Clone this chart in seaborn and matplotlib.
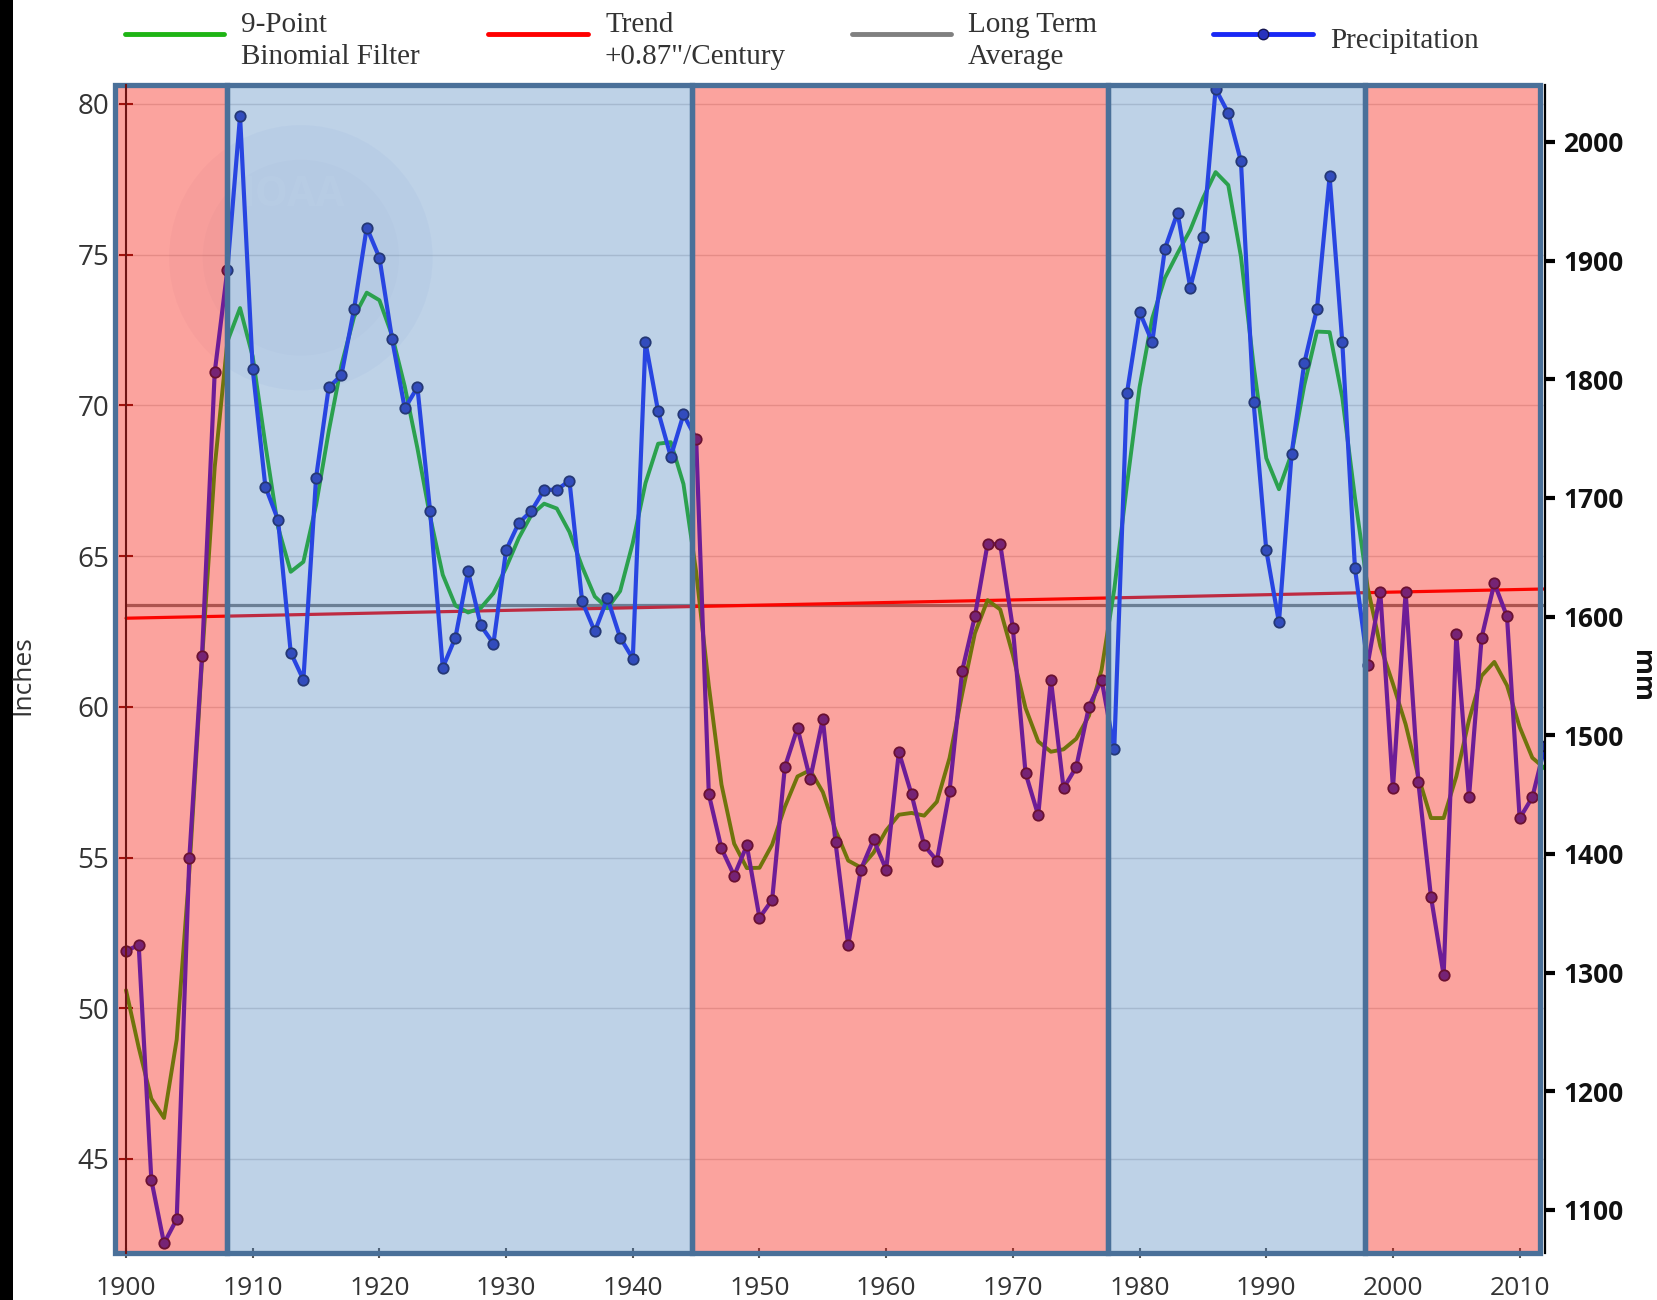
import numpy as np
import pandas as pd
import matplotlib
matplotlib.use("Agg")
import matplotlib.pyplot as plt
import seaborn as sns
from matplotlib.patches import Rectangle, Ellipse
from matplotlib.lines import Line2D

# ---- data -------------------------------------------------------------
years = list(range(1900, 2013))

# annual precipitation, inches
precip_in = [
    51.9, 52.1, 44.3, 42.2, 43.0, 55.0, 61.7, 71.1, 74.5, 79.6,
    71.2, 67.3, 66.2, 61.8, 60.9, 67.6, 70.6, 71.0, 73.2, 75.9,
    74.9, 72.2, 69.9, 70.6, 66.5, 61.3, 62.3, 64.5, 62.7, 62.1,
    65.2, 66.1, 66.5, 67.2, 67.2, 67.5, 63.5, 62.5, 63.6, 62.3,
    61.6, 72.1, 69.8, 68.3, 69.7, 68.9, 57.1, 55.3, 54.4, 55.4,
    53.0, 53.6, 58.0, 59.3, 57.6, 59.6, 55.5, 52.1, 54.6, 55.6,
    54.6, 58.5, 57.1, 55.4, 54.9, 57.2, 61.2, 63.0, 65.4, 65.4,
    62.6, 57.8, 56.4, 60.9, 57.3, 58.0, 60.0, 60.9, 58.6, 70.4,
    73.1, 72.1, 75.2, 76.4, 73.9, 75.6, 80.5, 79.7, 78.1, 70.1,
    65.2, 62.8, 68.4, 71.4, 73.2, 77.6, 72.1, 64.6, 61.4, 63.8,
    57.3, 63.8, 57.5, 53.7, 51.1, 62.4, 57.0, 62.3, 64.1, 63.0,
    56.3, 57.0, 58.7,
]

# 9-point binomial filter curve, inches
smooth_in = [
    50.6, 48.7, 47.0, 46.36, 48.96, 54.56, 61.56, 67.95, 72.12, 73.23,
    71.62, 68.70, 65.96, 64.48, 64.81, 66.69, 69.14, 71.33, 72.94, 73.74,
    73.49, 72.32, 70.63, 68.58, 66.31, 64.38, 63.36, 63.13, 63.28, 63.77,
    64.62, 65.60, 66.37, 66.74, 66.58, 65.80, 64.65, 63.66, 63.27, 63.84,
    65.44, 67.42, 68.73, 68.78, 67.39, 64.48, 60.70, 57.42, 55.46, 54.65,
    54.66, 55.43, 56.68, 57.69, 57.90, 57.17, 55.91, 54.90, 54.67, 55.16,
    55.90, 56.42, 56.48, 56.39, 56.85, 58.30, 60.43, 62.44, 63.54, 63.23,
    61.72, 59.96, 58.85, 58.51, 58.59, 58.94, 59.70, 61.23, 63.89, 67.36,
    70.61, 72.89, 74.23, 75.05, 75.82, 76.87, 77.74, 77.31, 74.94, 71.33,
    68.25, 67.22, 68.40, 70.67, 72.45, 72.43, 70.26, 66.94, 63.96, 62.02,
    60.76, 59.42, 57.69, 56.31, 56.31, 57.69, 59.56, 61.03, 61.49, 60.71,
    59.33, 58.31, 57.95,
]

phase_edges = [1899.13, 1908.0, 1944.7, 1977.5, 1997.8, 2011.6]
phase_kind = ["dry", "wet", "dry", "wet", "dry"]
long_term_avg = 63.37
trend_years = [1900, 2012]
trend_in = [62.94, 63.91]
inch_ticks = [45, 50, 55, 60, 65, 70, 75, 80]
mm_ticks = [1100, 1200, 1300, 1400, 1500, 1600, 1700, 1800, 1900, 2000]
year_ticks = [1900, 1910, 1920, 1930, 1940, 1950, 1960, 1970, 1980, 1990, 2000, 2010]

df = pd.DataFrame({"year": years, "precip": precip_in, "smooth": smooth_in})

# ---- styling ----------------------------------------------------------
sns.set_theme(style="white")
plt.rcParams["font.family"] = ["Open Sans", "DejaVu Sans"]

W, H = 1657, 1300
fig = plt.figure(figsize=(W / 100, H / 100), dpi=100)
ax = fig.add_axes([115 / W, 47 / H, 1430 / W, 1168 / H])

XMIN, XMAX = 1899.13, 2012.0
YMIN, YMAX = 41.88, 80.63

BLUE = "#1928f5"
GREEN = "#1eb414"
RED = "#ff0000"
GRAY = "#808080"
FRAME = "#4a7099"
DRY = "#f70d00"
WET = "#457ebd"

# series
ax.plot([1900, XMAX], [long_term_avg, long_term_avg], color=GRAY, lw=2.3, zorder=2)
sns.lineplot(x=trend_years, y=trend_in, ax=ax, color=RED, lw=2.3, zorder=2)
sns.lineplot(data=df, x="year", y="smooth", ax=ax, color=GREEN, lw=2.8, zorder=2.1)
sns.lineplot(data=df, x="year", y="precip", ax=ax, color=BLUE, lw=3.0, zorder=2.2,
             marker="o", markersize=7.5, markerfacecolor="#2832be",
             markeredgecolor="#141450", markeredgewidth=1.3)

# faint agency seal in the background
ax.add_patch(Ellipse((1913.8, 74.9), 20.8, 8.8, facecolor="#2a4a9a", alpha=0.035,
                     lw=0, zorder=1))
ax.add_patch(Ellipse((1913.8, 74.9), 15.5, 6.5, facecolor="#2a4a9a", alpha=0.025,
                     lw=0, zorder=1))
ax.text(1912.4, 76.95, "NOAA", ha="center", va="center", fontsize=30,
        fontweight="bold", color="white", alpha=0.28, zorder=1)

# phase shading above the lines
for x0, x1, kind in zip(phase_edges[:-1], phase_edges[1:], phase_kind):
    if kind == "dry":
        ax.axvspan(x0, x1, color=DRY, alpha=0.38, lw=0, zorder=3)
    else:
        ax.axvspan(x0, x1, color=WET, alpha=0.35, lw=0, zorder=3)
    ax.add_patch(Rectangle((x0, 0), x1 - x0, 1, transform=ax.get_xaxis_transform(),
                           fill=False, ec=FRAME, lw=3.8, zorder=4, clip_on=False))

ax.set_xlim(XMIN, XMAX)
ax.set_ylim(YMIN, YMAX)
ax.set_xticks(year_ticks)
ax.set_yticks(inch_ticks)
ax.set_xlabel("")
ax.set_ylabel("")
ax.grid(axis="y", color="#dadada", lw=1.0)
ax.set_axisbelow(True)
for s in ["top", "bottom", "right"]:
    ax.spines[s].set_visible(False)
ax.spines["left"].set_position(("data", 1900))
ax.spines["left"].set_color("#6e1414")
ax.spines["left"].set_linewidth(1.5)
ax.spines["left"].set_zorder(6)
ax.tick_params(axis="y", left=True, direction="inout", length=10, width=1.5,
               color="#6e1414", pad=7, labelsize=20, labelcolor="#333333")
ax.tick_params(axis="x", bottom=True, direction="inout", length=7, width=1.5,
               color="#555555", pad=13, labelsize=19, labelcolor="#333333")

ax2 = ax.twinx()
ax2.set_ylim(YMIN * 25.4, YMAX * 25.4)
ax2.set_yticks(mm_ticks)
for s in ["top", "bottom", "left"]:
    ax2.spines[s].set_visible(False)
ax2.spines["right"].set_color("black")
ax2.spines["right"].set_linewidth(1.6)
ax2.tick_params(axis="y", right=True, direction="out", length=7, width=3,
                color="black", pad=6, labelsize=19, labelcolor="#111111")
for lbl in ax2.get_yticklabels():
    lbl.set_fontweight("bold")
ax2.grid(False)

fig.text(23 / W, 1 - 675 / H, "Inches", rotation=90, ha="center", va="center",
         fontsize=19, color="#333333")
fig.text(1641 / W, 1 - 676 / H, "mm", rotation=270, ha="center", va="center",
         fontsize=19, fontweight="bold", color="#111111")

# legend row
leg_y = 1 - 34 / H
serif = ["Liberation Serif", "DejaVu Serif"]
legend_items = [
    (125, 224, GREEN, "9-Point\nBinomial Filter", 241),
    (488, 588, RED, "Trend\n+0.87\"/Century", 605),
    (852, 951, GRAY, "Long Term\nAverage", 968),
    (1213, 1313, BLUE, "Precipitation", 1330),
]
for x0, x1, col, label, tx in legend_items:
    fig.add_artist(Line2D([x0 / W, x1 / W], [leg_y, leg_y], transform=fig.transFigure,
                          color=col, lw=3.5))
    fig.text(tx / W, 1 - 40.5 / H, label, ha="left", va="center", fontsize=21,
             family=serif, color="#333333", linespacing=1.3)
fig.add_artist(Line2D([1263 / W], [leg_y], transform=fig.transFigure, marker="o",
                      markersize=7.5, markerfacecolor="#2832be",
                      markeredgecolor="#141450", lw=0))

# dark strip along the left edge
fig.add_artist(Rectangle((0, 0), 13 / W, 1, transform=fig.transFigure,
                         color="black", lw=0))

fig.savefig("out.png", dpi=100)
